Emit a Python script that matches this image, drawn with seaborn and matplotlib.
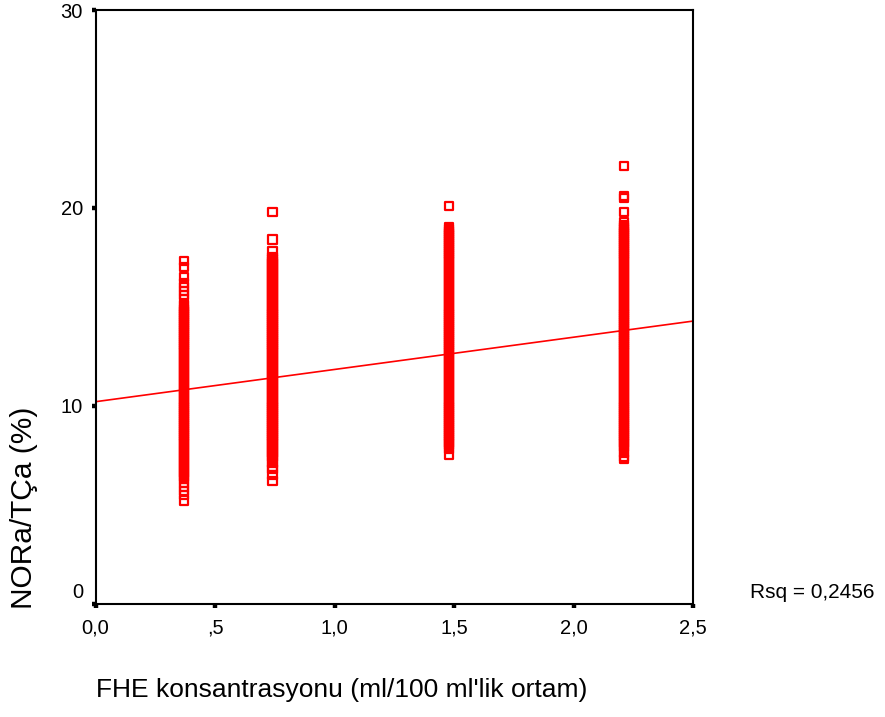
import numpy as np
import pandas as pd
import seaborn as sns
import matplotlib.pyplot as plt
from matplotlib.transforms import ScaledTranslation

# FHE concentrations (x) and NORa/TCa values
conc = [0.37, 0.74, 1.48, 2.21]

nora_037 = [17.3, 17.0, 16.5, 16.2, 16.0, 15.8, 15.6, 15.4,
            15.1, 15.0, 14.9, 14.8, 14.7, 14.6, 14.5, 14.4, 14.3, 14.2, 14.1, 14.0,
            13.9, 13.8, 13.7, 13.6, 13.5, 13.4, 13.3, 13.2, 13.1, 13.0,
            12.9, 12.8, 12.7, 12.6, 12.5, 12.4, 12.3, 12.2, 12.1, 12.0,
            11.9, 11.8, 11.7, 11.6, 11.5, 11.4, 11.3, 11.2, 11.1, 11.0,
            10.9, 10.8, 10.7, 10.6, 10.5, 10.4, 10.3, 10.2, 10.1, 10.0,
            9.9, 9.8, 9.7, 9.6, 9.5, 9.4, 9.3, 9.2, 9.1, 9.0,
            8.9, 8.8, 8.7, 8.6, 8.5, 8.4, 8.3, 8.2, 8.1, 8.0,
            7.9, 7.8, 7.7, 7.6, 7.5, 7.4, 7.3, 7.2, 7.1, 7.0,
            6.9, 6.8, 6.7, 6.6, 6.5, 6.4, 6.3, 6.1, 5.9, 5.7, 5.5, 5.2]

nora_074 = [19.8, 18.4, 17.8,
            17.5, 17.4, 17.3, 17.2, 17.1, 17.0,
            16.9, 16.8, 16.7, 16.6, 16.5, 16.4, 16.3, 16.2, 16.1, 16.0,
            15.9, 15.8, 15.7, 15.6, 15.5, 15.4, 15.3, 15.2, 15.1, 15.0,
            14.9, 14.8, 14.7, 14.6, 14.5, 14.4, 14.3, 14.2, 14.1, 14.0,
            13.9, 13.8, 13.7, 13.6, 13.5, 13.4, 13.3, 13.2, 13.1, 13.0,
            12.9, 12.8, 12.7, 12.6, 12.5, 12.4, 12.3, 12.2, 12.1, 12.0,
            11.9, 11.8, 11.7, 11.6, 11.5, 11.4, 11.3, 11.2, 11.1, 11.0,
            10.9, 10.8, 10.7, 10.6, 10.5, 10.4, 10.3, 10.2, 10.1, 10.0,
            9.9, 9.8, 9.7, 9.6, 9.5, 9.4, 9.3, 9.2, 9.1, 9.0,
            8.9, 8.8, 8.7, 8.6, 8.5, 8.4, 8.3, 8.2, 8.1, 8.0,
            7.9, 7.8, 7.7, 7.6, 7.5, 7.4, 7.3, 7.1, 6.9, 6.8, 6.5, 6.2]

nora_148 = [20.1,
            19.0, 18.9, 18.8, 18.7, 18.6, 18.5, 18.4, 18.3, 18.2, 18.1, 18.0,
            17.9, 17.8, 17.7, 17.6, 17.5, 17.4, 17.3, 17.2, 17.1, 17.0,
            16.9, 16.8, 16.7, 16.6, 16.5, 16.4, 16.3, 16.2, 16.1, 16.0,
            15.9, 15.8, 15.7, 15.6, 15.5, 15.4, 15.3, 15.2, 15.1, 15.0,
            14.9, 14.8, 14.7, 14.6, 14.5, 14.4, 14.3, 14.2, 14.1, 14.0,
            13.9, 13.8, 13.7, 13.6, 13.5, 13.4, 13.3, 13.2, 13.1, 13.0,
            12.9, 12.8, 12.7, 12.6, 12.5, 12.4, 12.3, 12.2, 12.1, 12.0,
            11.9, 11.8, 11.7, 11.6, 11.5, 11.4, 11.3, 11.2, 11.1, 11.0,
            10.9, 10.8, 10.7, 10.6, 10.5, 10.4, 10.3, 10.2, 10.1, 10.0,
            9.9, 9.8, 9.7, 9.6, 9.5, 9.4, 9.3, 9.2, 9.1, 9.0,
            8.9, 8.8, 8.7, 8.6, 8.5, 8.4, 8.3, 8.2, 8.1, 8.0,
            7.9, 7.8, 7.5]

nora_221 = [22.1, 20.6, 20.5, 19.8, 19.3,
            19.1, 19.0, 18.9, 18.8, 18.7, 18.6, 18.5, 18.4, 18.3, 18.2, 18.1, 18.0,
            17.9, 17.8, 17.7, 17.6, 17.5, 17.4, 17.3, 17.2, 17.1, 17.0,
            16.9, 16.8, 16.7, 16.6, 16.5, 16.4, 16.3, 16.2, 16.1, 16.0,
            15.9, 15.8, 15.7, 15.6, 15.5, 15.4, 15.3, 15.2, 15.1, 15.0,
            14.9, 14.8, 14.7, 14.6, 14.5, 14.4, 14.3, 14.2, 14.1, 14.0,
            13.9, 13.8, 13.7, 13.6, 13.5, 13.4, 13.3, 13.2, 13.1, 13.0,
            12.9, 12.8, 12.7, 12.6, 12.5, 12.4, 12.3, 12.2, 12.1, 12.0,
            11.9, 11.8, 11.7, 11.6, 11.5, 11.4, 11.3, 11.2, 11.1, 11.0,
            10.9, 10.8, 10.7, 10.6, 10.5, 10.4, 10.3, 10.2, 10.1, 10.0,
            9.9, 9.8, 9.7, 9.6, 9.5, 9.4, 9.3, 9.2, 9.1, 9.0,
            8.9, 8.8, 8.7, 8.6, 8.5, 8.4, 8.3, 8.2, 8.1, 8.0,
            7.9, 7.8, 7.6, 7.4, 7.3]

# linear fit shown in the chart
fit_intercept = 10.2
fit_slope = 1.63
rsq_text = "Rsq = 0,2456"

x_ticks = [0.0, 0.5, 1.0, 1.5, 2.0, 2.5]
x_ticklabels = ["0,0", ",5", "1,0", "1,5", "2,0", "2,5"]
y_ticks = [0, 10, 20, 30]

groups = [nora_037, nora_074, nora_148, nora_221]
df = pd.DataFrame({
    "fhe": np.concatenate([[c] * len(g) for c, g in zip(conc, groups)]),
    "nora": np.concatenate(groups),
})

sns.set_style("white")
plt.rcParams["font.family"] = ["Liberation Sans", "DejaVu Sans"]
plt.rcParams["text.color"] = "black"
plt.rcParams["axes.labelcolor"] = "black"

fig = plt.figure(figsize=(8.85, 7.17), dpi=100)
ax = fig.add_axes([95.5 / 885, (717 - 603.5) / 717, (693 - 95.5) / 885, (603.5 - 10) / 717])

sns.scatterplot(data=df, x="fhe", y="nora", marker="s", s=36,
                facecolor="none", edgecolor="#ff0000", linewidth=1.6, ax=ax)
ax.axline((0, fit_intercept), slope=fit_slope, color="#ff0000", lw=1.2)

ax.set_xlim(0, 2.5)
ax.set_ylim(0, 30)
ax.set_xticks(x_ticks)
ax.set_xticklabels(x_ticklabels)
ax.set_yticks(y_ticks)
ax.tick_params(axis="both", bottom=True, left=True, direction="out", length=3, width=3.2,
               color="black", labelsize=14.5, labelcolor="black")
ax.tick_params(axis="x", pad=8)
ax.tick_params(axis="y", pad=6)
for s in ax.spines.values():
    s.set_visible(True)
    s.set_color("black")
    s.set_linewidth(1.5)

# "0" on the y axis sits a bit above its tick
lab0 = ax.get_yticklabels()[0]
lab0.set_transform(lab0.get_transform() + ScaledTranslation(0, 9 / 72, fig.dpi_scale_trans))

ax.set_xlabel("FHE konsantrasyonu (ml/100 ml'lik ortam)", fontsize=19, ha="left", color="black")
ax.xaxis.set_label_coords(0, -0.125)
ax.set_ylabel("NORa/TÇa (%)", fontsize=21.5, color="black")
ax.yaxis.set_label_coords(-0.097, 0.161)

fig.text(750 / 885, 1 - 592 / 717, rsq_text, fontsize=15, va="center", ha="left", color="black")

fig.savefig("out.png", dpi=100)
